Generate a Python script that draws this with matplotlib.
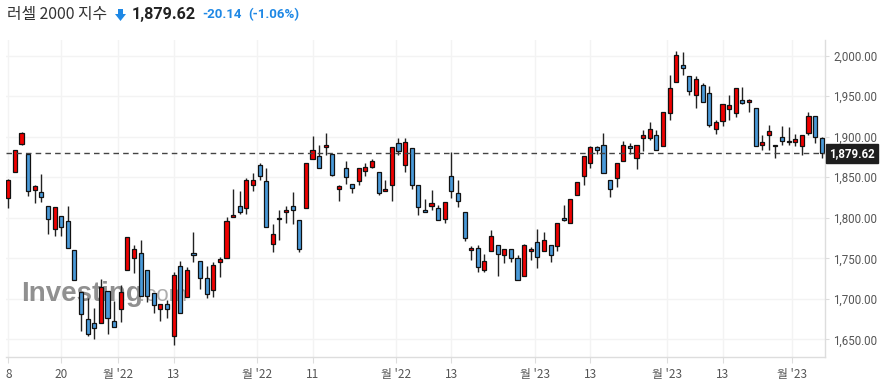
import numpy as np
import pandas as pd
import matplotlib
matplotlib.use("Agg")
import matplotlib.pyplot as plt
from matplotlib.patches import Polygon

plt.rcParams['font.family'] = ['Noto Sans CJK KR', 'DejaVu Sans']

# ---------------- data ----------------
title_name = "러셀 2000 지수"
last_price = "1,879.62"
change_txt = "-20.14"
change_pct = "(-1.06%)"
last_close = 1879.62

opens = [1824, 1857, 1891, 1879, 1834, 1832, 1814, 1786, 1802, 1796,
         1760, 1708, 1675, 1670, 1670, 1710, 1673, 1688, 1736, 1750,
         1756, 1735, 1707, 1688, 1693, 1654, 1741, 1702, 1756, 1747,
         1726, 1711, 1746, 1750, 1801, 1815, 1812, 1840, 1865, 1845,
         1768, 1800, 1807, 1815, 1797, 1812, 1873, 1876, 1887, 1879,
         1836, 1862, 1842, 1845, 1858, 1863, 1857, 1833, 1840, 1892,
         1865, 1886, 1840, 1809, 1815, 1812, 1799, 1852, 1831, 1807,
         1760, 1763, 1736, 1759, 1767, 1754, 1761, 1750, 1728, 1759,
         1770, 1759, 1766, 1765, 1800, 1794, 1828, 1851, 1868, 1887,
         1890, 1846, 1849, 1870, 1888, 1874, 1899, 1899, 1902, 1888,
         1929, 1967, 1988, 1975, 1952, 1964, 1954, 1910, 1919, 1934,
         1929, 1945, 1943, 1936, 1890, 1902, 1890, 1900, 1893, 1894,
         1888, 1905, 1926, 1898]
highs = [1848, 1884, 1906, 1880, 1840, 1854, 1814, 1813, 1802, 1814,
         1760, 1708, 1701, 1689, 1725, 1710, 1697, 1717, 1776, 1767,
         1772, 1735, 1707, 1693, 1698, 1733, 1747, 1739, 1782, 1747,
         1740, 1746, 1752, 1801, 1836, 1833, 1849, 1855, 1868, 1861,
         1792, 1810, 1815, 1832, 1797, 1868, 1901, 1890, 1905, 1879,
         1840, 1870, 1842, 1861, 1868, 1873, 1857, 1846, 1887, 1898,
         1898, 1886, 1840, 1823, 1834, 1816, 1820, 1881, 1846, 1807,
         1765, 1766, 1755, 1785, 1767, 1761, 1761, 1754, 1768, 1764,
         1786, 1782, 1766, 1793, 1816, 1823, 1844, 1876, 1889, 1889,
         1904, 1846, 1867, 1895, 1892, 1890, 1908, 1918, 1908, 1930,
         1976, 2006, 2005, 1975, 1975, 1966, 1962, 1920, 1940, 1951,
         1960, 1961, 1946, 1936, 1902, 1914, 1890, 1913, 1912, 1903,
         1902, 1930, 1926, 1900]
lows = [1812, 1856, 1890, 1827, 1818, 1819, 1780, 1778, 1777, 1763,
        1723, 1660, 1654, 1651, 1670, 1657, 1665, 1672, 1736, 1732,
        1703, 1696, 1682, 1673, 1676, 1643, 1683, 1702, 1745, 1712,
        1701, 1702, 1727, 1750, 1801, 1805, 1805, 1833, 1846, 1789,
        1758, 1772, 1794, 1792, 1758, 1812, 1873, 1862, 1878, 1851,
        1821, 1842, 1830, 1840, 1852, 1861, 1828, 1833, 1821, 1877,
        1857, 1835, 1803, 1807, 1809, 1797, 1793, 1824, 1813, 1771,
        1748, 1733, 1733, 1759, 1728, 1744, 1746, 1723, 1728, 1748,
        1738, 1759, 1746, 1759, 1796, 1794, 1828, 1840, 1862, 1879,
        1855, 1826, 1838, 1870, 1879, 1860, 1882, 1896, 1884, 1888,
        1920, 1967, 1976, 1951, 1935, 1943, 1912, 1903, 1913, 1920,
        1924, 1940, 1930, 1888, 1884, 1883, 1874, 1890, 1890, 1888,
        1877, 1902, 1892, 1874]
closes = [1847, 1883, 1905, 1833, 1839, 1825, 1799, 1813, 1788, 1763,
          1723, 1681, 1656, 1664, 1715, 1676, 1665, 1709, 1776, 1762,
          1703, 1703, 1692, 1693, 1688, 1729, 1683, 1735, 1754, 1726,
          1706, 1742, 1749, 1796, 1804, 1807, 1847, 1847, 1852, 1789,
          1780, 1798, 1810, 1809, 1761, 1868, 1883, 1862, 1890, 1853,
          1839, 1850, 1837, 1861, 1863, 1870, 1831, 1836, 1887, 1882,
          1893, 1841, 1813, 1807, 1818, 1797, 1819, 1833, 1821, 1775,
          1763, 1739, 1747, 1777, 1755, 1761, 1750, 1723, 1766, 1761,
          1751, 1772, 1754, 1793, 1797, 1823, 1844, 1876, 1887, 1884,
          1855, 1836, 1867, 1890, 1886, 1890, 1902, 1910, 1884, 1930,
          1960, 2001, 1985, 1957, 1971, 1943, 1914, 1918, 1940, 1939,
          1960, 1941, 1945, 1888, 1893, 1907, 1888, 1895, 1895, 1897,
          1902, 1926, 1899.76, 1879.62]

holidays = ["2022-11-24", "2022-12-26", "2023-01-02", "2023-01-16", "2023-02-20"]
dates = pd.bdate_range("2022-09-08", "2023-03-07", freq="C", holidays=holidays)

day_ticks = ["2022-09-08", "2022-09-20", "2022-10-13", "2022-11-11",
             "2022-12-13", "2023-01-13", "2023-02-13"]
day_labels = ["8", "20", "13", "11", "13", "13", "13"]
month_ticks = ["2022-10-03", "2022-11-01", "2022-12-01", "2023-01-03",
               "2023-02-01", "2023-03-01"]
month_labels = ["월 '22", "월 '22", "월 '22", "월 '23", "월 '23", "월 '23"]

y_ticks = [1650, 1700, 1750, 1800, 1850, 1900, 1950, 2000]

# ---------------- figure ----------------
W, H = 886, 386
fig = plt.figure(figsize=(W / 100, H / 100), dpi=100)

def fx(px):
    return px / W

def fy(py):
    return 1 - py / H

ax_l, ax_r, ax_t, ax_b = 6, 825, 40, 356.7
ax = fig.add_axes([fx(ax_l), fy(ax_b), fx(ax_r - ax_l), fy(ax_t) - fy(ax_b)])

o = np.array(opens, float)
h = np.array(highs, float)
l = np.array(lows, float)
c = np.array(closes, float)
x = np.arange(len(c))

up = c >= o
red = "#f00000"
blue = "#4a9ad9"
colors = np.where(up, red, blue)

ax.vlines(x, l, h, color="#222222", linewidth=1.0, zorder=3)
body_bottom = np.minimum(o, c)
body_h = np.maximum(np.abs(c - o), 1.2)
ax.bar(x, body_h, bottom=body_bottom, width=0.62, color=colors,
       edgecolor="#111111", linewidth=0.9, zorder=4)

ax.set_xlim(-0.35, 123.5)
ax.set_ylim(1628.6, 2019.3)

# ticks
date_index = {d.strftime("%Y-%m-%d"): i for i, d in enumerate(dates)}
tick_pos = [date_index[d] for d in day_ticks] + [date_index[d] - 0.42 for d in month_ticks]
tick_lab = day_labels + month_labels
order = np.argsort(tick_pos)
tick_pos = [tick_pos[i] for i in order]
tick_lab = [tick_lab[i] for i in order]
ax.set_xticks(tick_pos)
ax.set_xticklabels(tick_lab)
ax.tick_params(axis="x", length=4, color="#dddddd", labelcolor="#555555",
               labelsize=8.5, pad=4)

ax.yaxis.tick_right()
ax.set_yticks(y_ticks)
ax.set_yticklabels([f"{v:,.2f}" for v in y_ticks], family=["Roboto", "DejaVu Sans"])
ax.tick_params(axis="y", length=3, color="#dddddd", labelcolor="#555555",
               labelsize=8.3, pad=3)

ax.grid(True, color="#f3f3f3", linewidth=1.0, zorder=0)
ax.set_axisbelow(True)
for s in ["top", "left"]:
    ax.spines[s].set_visible(False)
for s in ["bottom", "right"]:
    ax.spines[s].set_color("#dddddd")
    ax.spines[s].set_linewidth(1.0)

# last price dashed line
ax.axhline(last_close, color="#444444", linewidth=1.0, linestyle=(0, (4, 3)), zorder=5)

# price tag on the right axis
ax.annotate(last_price, xy=(1.0, last_close), xycoords=("axes fraction", "data"),
            xytext=(3, 0), textcoords="offset points", ha="left", va="center",
            fontsize=8.3, color="white", family=["Roboto", "DejaVu Sans"],
            fontweight="bold",
            bbox=dict(boxstyle="square,pad=0.25", fc="#1e1e1e", ec="#1e1e1e"),
            annotation_clip=False, zorder=10)

# watermark
ax.text(0.018, 0.175, "Investing", transform=ax.transAxes, fontsize=20,
        fontweight="bold", family=["Liberation Sans", "DejaVu Sans"],
        color="#7d7d7d", alpha=0.85, ha="left", va="baseline", zorder=2)
ax.text(0.163, 0.175, ".com", transform=ax.transAxes, fontsize=16,
        family=["Liberation Sans", "DejaVu Sans"],
        color="#9a9a9a", alpha=0.8, ha="left", va="baseline", zorder=2)

# header
hy = fy(15)
fig.text(fx(7), hy, title_name, fontsize=11.4, color="#333333", va="center", ha="left")
arrow = Polygon([[fx(118), fy(9)], [fx(123), fy(9)], [fx(123), fy(14)],
                 [fx(126), fy(14)], [fx(120.5), fy(21)], [fx(115), fy(14)],
                 [fx(118), fy(14)]], closed=True, transform=fig.transFigure,
                facecolor="#1e88e5", edgecolor="none")
fig.patches.append(arrow)
fig.text(fx(132), hy, last_price, fontsize=11.6, fontweight="bold", color="#222222",
         va="center", ha="left", family=["Roboto", "DejaVu Sans"])
fig.text(fx(202), hy, change_txt, fontsize=9.5, fontweight="bold", color="#1e88e5",
         va="center", ha="left", family=["Roboto", "DejaVu Sans"])
fig.text(fx(248), hy, change_pct, fontsize=9.5, fontweight="bold", color="#1e88e5",
         va="center", ha="left", family=["Roboto", "DejaVu Sans"])

fig.savefig("out.png", dpi=100)
